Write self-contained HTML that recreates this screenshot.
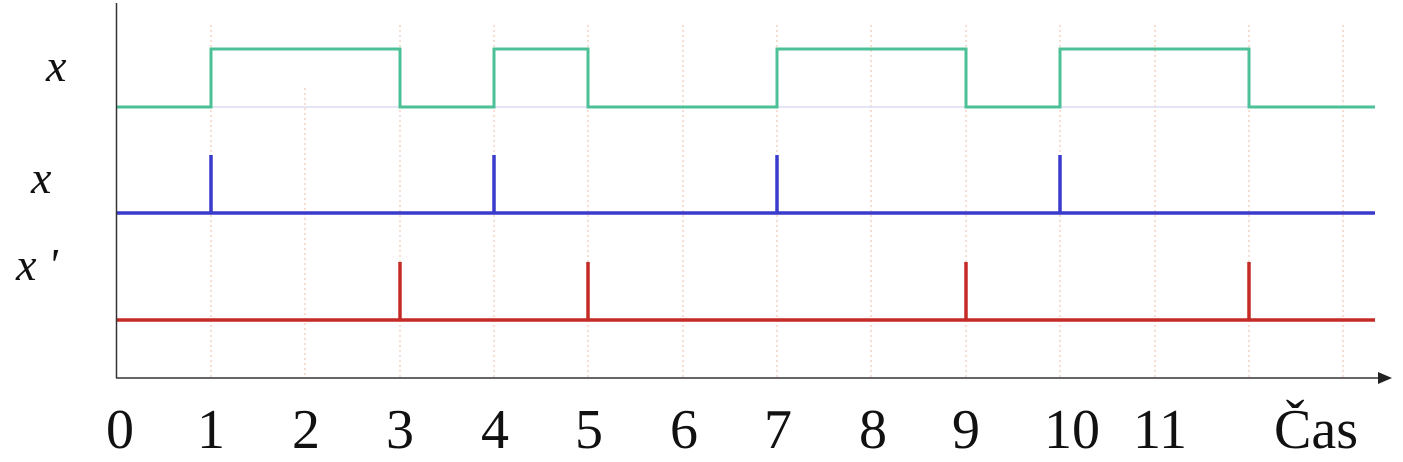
<!DOCTYPE html>
<html><head><style>html,body{margin:0;padding:0;background:#fff}</style></head>
<body>
<svg width="1403" height="457" viewBox="0 0 1403 457" xmlns="http://www.w3.org/2000/svg">
<g stroke="#f0c8b0" stroke-width="1.2" stroke-dasharray="2,3">
<line x1="211" y1="25" x2="211" y2="378"/><line x1="305" y1="88" x2="305" y2="378"/>
<line x1="400" y1="25" x2="400" y2="378"/><line x1="494" y1="25" x2="494" y2="378"/>
<line x1="588" y1="25" x2="588" y2="378"/><line x1="683" y1="25" x2="683" y2="378"/>
<line x1="777" y1="25" x2="777" y2="378"/><line x1="871" y1="25" x2="871" y2="378"/>
<line x1="966" y1="25" x2="966" y2="378"/><line x1="1060" y1="25" x2="1060" y2="378"/>
<line x1="1155" y1="25" x2="1155" y2="378"/><line x1="1249" y1="25" x2="1249" y2="378"/>
<line x1="1343" y1="25" x2="1343" y2="378"/>
</g>
<line x1="117" y1="107" x2="1375" y2="107" stroke="#dcdcf4" stroke-width="1.5"/>
<polyline fill="none" stroke="#4cc197" stroke-width="3" points="117,107 211,107 211,49 400,49 400,107 494,107 494,49 588,49 588,107 777,107 777,49 966,49 966,107 1060,107 1060,49 1249,49 1249,107 1375,107"/>
<g stroke="#3a3acc" stroke-width="3.5">
<line x1="117" y1="213" x2="1375" y2="213"/>
<line x1="211" y1="155" x2="211" y2="213"/><line x1="494" y1="155" x2="494" y2="213"/>
<line x1="777" y1="155" x2="777" y2="213"/><line x1="1060" y1="155" x2="1060" y2="213"/>
</g>
<g stroke="#c42a26" stroke-width="3.5">
<line x1="117" y1="320" x2="1375" y2="320"/>
<line x1="400" y1="262" x2="400" y2="320"/><line x1="588" y1="262" x2="588" y2="320"/>
<line x1="966" y1="262" x2="966" y2="320"/><line x1="1249" y1="262" x2="1249" y2="320"/>
</g>
<line x1="116.5" y1="3" x2="116.5" y2="378" stroke="#333" stroke-width="1.5"/>
<line x1="116" y1="378" x2="1380" y2="378" stroke="#333" stroke-width="1.5"/>
<polygon points="1392,378 1378,372 1378,384" fill="#222"/>
<g font-family="Liberation Serif, serif" font-style="italic" font-size="46" fill="#111">
<text x="46" y="81">x</text><text x="31" y="193">x</text><text x="16" y="280">x '</text>
</g>
<g font-family="Liberation Serif, serif" font-size="56" fill="#111" text-anchor="middle">
<text x="120" y="448">0</text><text x="211" y="448">1</text><text x="306" y="448">2</text>
<text x="400" y="448">3</text><text x="495" y="448">4</text><text x="589" y="448">5</text>
<text x="684" y="448">6</text><text x="778" y="448">7</text><text x="873" y="448">8</text>
<text x="966" y="448">9</text><text x="1072" y="448">10</text><text x="1160" y="448">11</text>
<text x="1316" y="448">Čas</text>
</g>
</svg>
</body></html>
